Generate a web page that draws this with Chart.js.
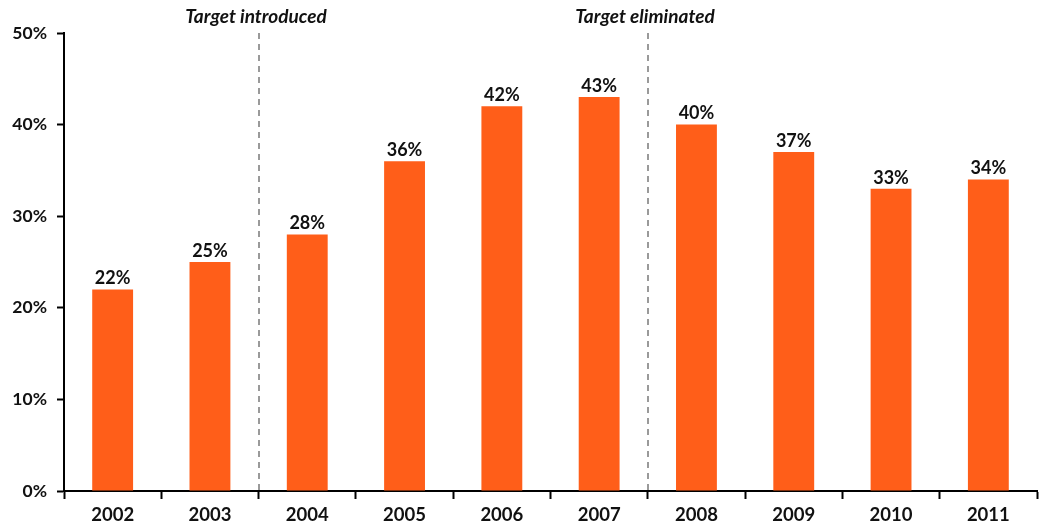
<!DOCTYPE html>
<html>
<head>
<meta charset="utf-8">
<script src="https://cdn.jsdelivr.net/npm/chart.js@4/dist/chart.umd.min.js"></script>
<style>
  html, body { margin: 0; padding: 0; background: #fff; }
  #wrap { width: 1039px; height: 531px; position: relative; }
</style>
</head>
<body>
<div id="wrap"><canvas id="c" width="1039" height="531"></canvas></div>
<script>
// Share of total, by year
const years = ['2002', '2003', '2004', '2005', '2006', '2007', '2008', '2009', '2010', '2011'];
const shares = [22, 25, 28, 36, 42, 43, 40, 37, 33, 34];

// Policy events: marked at the boundary just before the given year
const eventYears = ['2004', '2008'];
const eventLabels = ['Target introduced', 'Target eliminated'];

const FONT = 'Lato, "Open Sans", "DejaVu Sans", sans-serif';

const valueLabels = {
  id: 'valueLabels',
  afterDatasetsDraw(chart) {
    const ctx = chart.ctx;
    const meta = chart.getDatasetMeta(0);
    ctx.save();
    ctx.font = 'bold 18px ' + FONT;
    ctx.fillStyle = '#111';
    ctx.textAlign = 'center';
    ctx.textBaseline = 'bottom';
    meta.data.forEach((bar, i) => {
      ctx.fillText(shares[i] + '%', bar.x, bar.y - 2);
    });
    ctx.restore();
  }
};

const eventMarkers = {
  id: 'eventMarkers',
  beforeDatasetsDraw(chart) {
    const ctx = chart.ctx;
    const xs = chart.scales.x, ys = chart.scales.y;
    ctx.save();
    eventYears.forEach((yr, k) => {
      const i = years.indexOf(yr);
      const x = Math.round((xs.getPixelForValue(i - 1) + xs.getPixelForValue(i)) / 2);
      ctx.strokeStyle = '#9a9a9a';
      ctx.lineWidth = 2;
      ctx.setLineDash([6, 5]);
      ctx.beginPath();
      ctx.moveTo(x, ys.getPixelForValue(50));
      ctx.lineTo(x, ys.getPixelForValue(0));
      ctx.stroke();
      ctx.setLineDash([]);
      ctx.font = 'italic bold 19px ' + FONT;
      ctx.fillStyle = '#111';
      ctx.textAlign = 'center';
      ctx.textBaseline = 'middle';
      ctx.fillText(eventLabels[k], x - 3, 17);
    });
    ctx.restore();
  }
};

new Chart(document.getElementById('c'), {
  type: 'bar',
  data: {
    labels: years,
    datasets: [{
      data: shares,
      backgroundColor: '#FF5E19',
      barPercentage: 0.42,
      categoryPercentage: 1.0
    }]
  },
  options: {
    responsive: false,
    animation: false,
    layout: { padding: { top: 33, right: 2, left: 0, bottom: 0 } },
    plugins: {
      legend: { display: false },
      tooltip: { enabled: false }
    },
    scales: {
      x: {
        offset: true,
        grid: {
          offset: true,
          drawOnChartArea: false,
          drawTicks: true,
          tickLength: 8,
          tickWidth: 2,
          tickColor: '#000'
        },
        border: { color: '#000', width: 2 },
        ticks: {
          color: '#111',
          font: { family: FONT, size: 18.5, weight: 'bold' },
          padding: 5,
          maxRotation: 0
        },
        afterFit(scale) { scale.height = 40; }
      },
      y: {
        min: 0,
        max: 50,
        grid: {
          drawOnChartArea: false,
          drawTicks: true,
          tickLength: 7,
          tickWidth: 2,
          tickColor: '#000'
        },
        border: { color: '#000', width: 2 },
        ticks: {
          stepSize: 10,
          color: '#111',
          font: { family: FONT, size: 17.5, weight: 'bold' },
          padding: 10,
          callback: v => v + '%'
        },
        afterFit(scale) { scale.width = 64; }
      }
    }
  },
  plugins: [eventMarkers, valueLabels]
});
</script>
</body>
</html>
